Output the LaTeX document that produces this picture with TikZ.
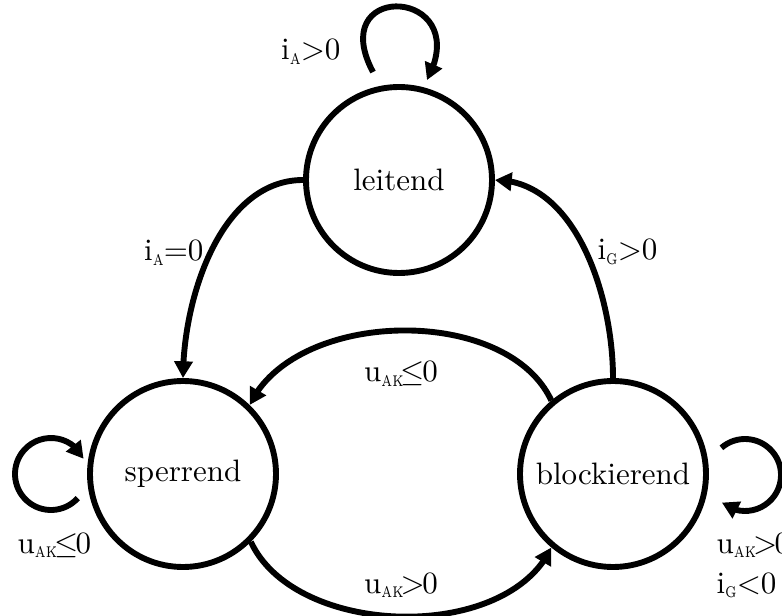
\documentclass[tikz,border=0pt]{standalone}
\usetikzlibrary{arrows.meta,bending}
% subscript: small, a little narrowed and lowered
\newcommand\lsub[1]{\raisebox{-1.3pt}{\tiny\scalebox{0.72}[1]{#1}}}
% voltage label u_AK followed by a relation
\newcommand\uak[1]{u\lsub{AK}\kern-1pt$#1$\kern-0.8pt0}
\begin{document}
\begin{tikzpicture}[x=0.32258pt,y=0.32258pt,
  state/.style={circle,draw,line width=1.9pt,minimum size=60pt,inner sep=0pt,font=\normalsize},
  trans/.style={line width=1.9pt,-{Triangle[length=5.4pt,width=5.8pt]}},
  lbl/.style={inner sep=0pt,font=\normalsize}]
\useasboundingbox (0,0) rectangle (782,615);

% states
\node[state] (L) at (399,435) {leitend};
\node[state] (S) at (183,141) {sperrend};
\node[state] (B) at (613,141) {blockierend};

% transitions between states
\draw[trans] (L.west) to[out=180,in=90,looseness=0.9] (S.north);
\draw[trans] (B.north) to[out=90,in=0,looseness=0.9] (L.east);
\draw[trans] (B.130) to[out=115,in=65,looseness=0.9] (S.46);
\draw[trans] (S.-45) to[out=-65,in=-115,looseness=0.9] (B.230);

% self loops
\coordinate (La) at ([shift={(-26,12)}]L.north);
\coordinate (Lb) at ([shift={(28,4)}]L.north);
\draw[trans] (La) .. controls +(118:105) and +(62:105) .. (Lb);
\draw[trans] (S.center) ++(-132,0) ++(-42:36) arc[start angle=-42,end angle=-335,radius=36];
\draw[trans] (B.center) ++(132,-1) ++(131:36) arc[start angle=131,end angle=-130,radius=36];

% transition conditions
\node[lbl,anchor=base east] (cA) at (341,555) {i\lsub{A}$>$0};
\node[lbl,anchor=base east] (cB) at (204,354) {i\lsub{A}=0};
\node[lbl,anchor=base west] (cC) at (597,355) {i\lsub{G}$>$0};
\node[lbl,anchor=base] (cD) at (401,233) {\uak{\leq}};
\node[lbl,anchor=base] (cE) at (401,22) {\uak{>}};
\node[lbl,anchor=base west] (cF) at (17,62) {\uak{\leq}};
\node[lbl,anchor=base west] (cG) at (716,62) {\uak{>}};
\node[lbl,anchor=base west] (cH) at (716,22) {i\lsub{G}$<$0};
\end{tikzpicture}
\end{document}
